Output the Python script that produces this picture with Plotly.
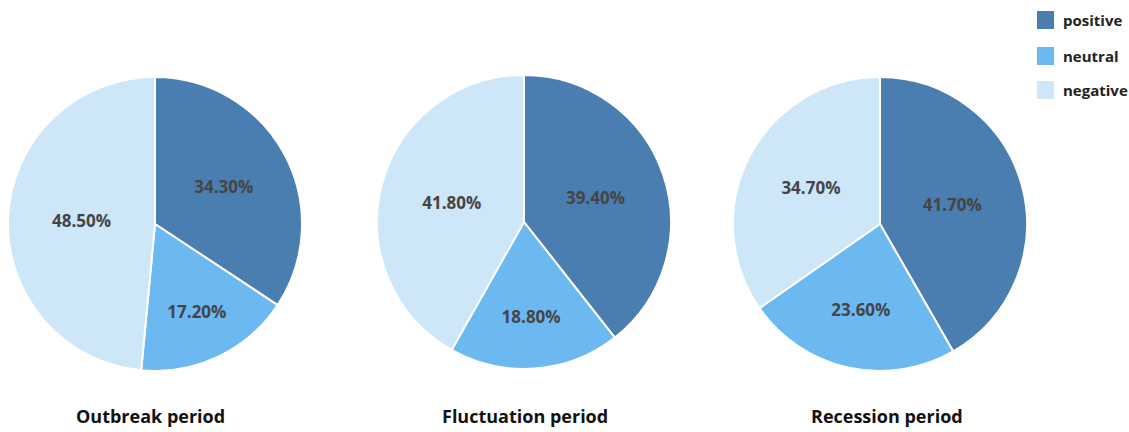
import plotly.graph_objects as go

categories = ["positive", "neutral", "negative"]
periods = ["Outbreak period", "Fluctuation period", "Recession period"]
outbreak = [34.3, 17.2, 48.5]
fluctuation = [39.4, 18.8, 41.8]
recession = [41.7, 23.6, 34.7]
series = [outbreak, fluctuation, recession]
colors = ["#4a7eb1", "#6cb9f1", "#cde6f8"]

W, H = 1129, 432
# pixel boxes for each pie: (x0, x1, ytop, ybottom)
boxes = [(8, 302, 77, 371), (377, 671, 75, 369), (733, 1027, 77, 371)]
title_x = [150, 525, 887]

fig = go.Figure()
for vals, (x0, x1, yt, yb) in zip(series, boxes):
    fig.add_trace(go.Pie(
        labels=categories,
        values=vals,
        text=[f"{v:.2f}%" for v in vals],
        textinfo="text",
        textposition="inside",
        insidetextorientation="horizontal",
        sort=False,
        direction="clockwise",
        rotation=0,
        marker=dict(colors=colors, line=dict(color="white", width=2)),
        textfont=dict(family="Open Sans", size=17, color="#454545", weight="bold"),
        showlegend=False,
        hoverinfo="label+percent",
        domain=dict(x=[x0 / W, x1 / W], y=[1 - yb / H, 1 - yt / H]),
    ))

annotations = []
for name, tx in zip(periods, title_x):
    annotations.append(dict(
        text=name, x=tx / W, y=2 / H, xref="paper", yref="paper",
        showarrow=False, xanchor="center", yanchor="bottom",
        font=dict(family="Open Sans", size=18, color="#111111", weight="bold"),
    ))

shapes = []
leg_y = [20, 56, 90]
for cat, col, ly in zip(categories, colors, leg_y):
    shapes.append(dict(type="rect", xref="paper", yref="paper",
                       x0=1037 / W, x1=1054 / W,
                       y0=1 - (ly + 9) / H, y1=1 - (ly - 9) / H,
                       fillcolor=col, line=dict(width=0)))
    annotations.append(dict(
        text=cat, x=1061 / W, y=1 - ly / H, xref="paper", yref="paper",
        showarrow=False, xanchor="left", yanchor="middle",
        font=dict(family="Open Sans", size=15, color="#222222", weight="bold"),
    ))

fig.update_layout(
    width=W, height=H,
    margin=dict(l=0, r=0, t=0, b=0),
    paper_bgcolor="white", plot_bgcolor="white",
    annotations=annotations, shapes=shapes,
)
fig.write_html("out.html")
